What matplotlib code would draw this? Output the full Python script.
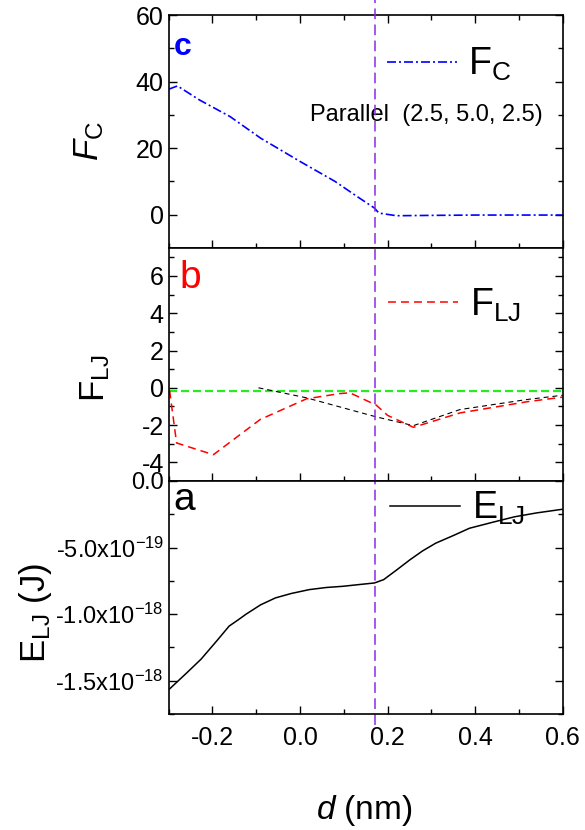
import numpy as np
import matplotlib
matplotlib.use("Agg")
import matplotlib.pyplot as plt
from matplotlib.ticker import MultipleLocator, FixedLocator, FuncFormatter, FormatStrFormatter

plt.rcParams["font.family"] = ["Liberation Sans", "DejaVu Sans"]
plt.rcParams["mathtext.fontset"] = "custom"
plt.rcParams["mathtext.rm"] = "Liberation Sans"
plt.rcParams["mathtext.it"] = "Liberation Sans:italic"
plt.rcParams["mathtext.bf"] = "Liberation Sans:bold"
plt.rcParams["axes.unicode_minus"] = False

# ---- data ----
# panel c : Coulomb force
d_c = [-0.30, -0.28, -0.23, -0.16, -0.09, 0.0, 0.08, 0.13, 0.17, 0.18, 0.22, 0.30, 0.40, 0.50, 0.60]
f_c = [37.7, 38.7, 34.5, 29.5, 23.0, 16.0, 10.0, 5.5, 2.0, 0.5, -0.3, -0.2, -0.1, -0.1, -0.1]

# panel b : LJ force (red) and a second LJ curve (black), plus reference level (green)
d_lj = [-0.298, -0.282, -0.198, -0.091, 0.015, 0.091, 0.114, 0.174, 0.20, 0.259, 0.365, 0.518, 0.60]
f_lj = [-0.15, -2.96, -3.59, -1.70, -0.59, -0.31, -0.27, -0.93, -1.48, -2.12, -1.35, -0.75, -0.50]
d_lj2 = [-0.095, 0.015, 0.174, 0.259, 0.365, 0.518, 0.60]
f_lj2 = [0.0, -0.54, -1.56, -2.03, -1.17, -0.63, -0.40]
d_ref = [-0.30, 0.60]
f_ref = [-0.16, -0.16]

# panel a : LJ energy (in 1e-19 J)
d_e = [-0.298, -0.26, -0.226, -0.19, -0.162, -0.14, -0.124, -0.09, -0.056, -0.02, 0.021,
       0.06, 0.098, 0.135, 0.17, 0.191, 0.22, 0.251, 0.28, 0.31, 0.35, 0.387, 0.44, 0.49,
       0.54, 0.598]
e_lj = [-15.62, -14.45, -13.38, -12.0, -10.9, -10.4, -10.02, -9.3, -8.78, -8.45, -8.16,
        -8.0, -7.91, -7.78, -7.66, -7.41, -6.7, -5.92, -5.25, -4.67, -4.1, -3.55, -3.1, -2.69,
        -2.4, -2.13]
e_lj = [v * 1e-19 for v in e_lj]

d_mark = 0.172

fig, (ax_c, ax_b, ax_a) = plt.subplots(3, 1, sharex=True, figsize=(5.85, 8.30), dpi=100)
fig.subplots_adjust(left=0.2884, right=0.9619, top=0.9819, bottom=0.1398, hspace=0)

# ---- curves ----
ax_c.plot(d_c, f_c, color="#0000FF", lw=1.2, dashes=(5.4, 1.8, 1.2, 1.8), label=r"F$_{\rm C}$")
ax_b.plot(d_ref, f_ref, color="#22EE22", lw=1.6, dashes=(3.6, 1.8))
ax_b.plot(d_lj2, f_lj2, color="black", lw=0.8, dashes=(4.5, 3.5))
ax_b.plot(d_lj, f_lj, color="#FF0000", lw=1.1, dashes=(5.2, 3.3), label=r"F$_{\rm LJ}$")
ax_a.plot(d_e, e_lj, color="black", lw=1.1, label=r"E$_{\rm LJ}$")

# vertical marker through all three panels
ax_a.axvline(d_mark, ymin=-0.047, ymax=3.064, clip_on=False, color="#8A2BE2", lw=1.1, dashes=(7, 3.5))

# ---- axes ----
ax_c.set_ylim(-10, 60)
ax_c.yaxis.set_major_locator(FixedLocator([0, 20, 40, 60]))
ax_c.yaxis.set_minor_locator(MultipleLocator(10))

ax_b.set_ylim(-5, 7.5)
ax_b.yaxis.set_major_locator(FixedLocator([-4, -2, 0, 2, 4, 6]))
ax_b.yaxis.set_minor_locator(MultipleLocator(1))

ax_a.set_ylim(-1.75e-18, 0)
ax_a.yaxis.set_major_locator(FixedLocator([0, -5e-19, -1e-18, -1.5e-18]))
ax_a.yaxis.set_minor_locator(MultipleLocator(2.5e-19))


def sci_fmt(v, pos):
    if abs(v) < 1e-30:
        return "0.0"
    e = int(np.floor(np.log10(abs(v))))
    m = v / 10 ** e
    return "%.1fx10$^{%d}$" % (m, e)


ax_a.yaxis.set_major_formatter(FuncFormatter(sci_fmt))

ax_a.set_xlim(-0.3, 0.6)
ax_a.xaxis.set_major_locator(FixedLocator([-0.2, 0.0, 0.2, 0.4, 0.6]))
ax_a.xaxis.set_minor_locator(MultipleLocator(0.1))
ax_a.xaxis.set_major_formatter(FormatStrFormatter("%.1f"))

for ax in (ax_c, ax_b, ax_a):
    for s in ax.spines.values():
        s.set_linewidth(1.2)
    ax.tick_params(which="both", direction="in", left=True, right=True, bottom=True,
                   top=(ax is ax_c), width=1.0)
    ax.tick_params(which="major", length=6)
    ax.tick_params(which="minor", length=3.5)
    ax.tick_params(axis="y", labelsize=18, pad=3.5)
    ax.tick_params(axis="x", labelsize=18, pad=9)
ax_a.tick_params(axis="y", labelsize=17)

# ---- labels ----
ax_c.set_ylabel(r"$F_{\rm C}$", fontsize=25)
ax_c.yaxis.set_label_coords(-0.16, 0.46)
ax_b.set_ylabel(r"F$_{\rm LJ}$", fontsize=25)
ax_b.yaxis.set_label_coords(-0.143, 0.439)
ax_a.set_ylabel(r"E$_{\rm LJ}$ (J)", fontsize=25)
ax_a.yaxis.set_label_coords(-0.29, 0.433)
ax_a.set_xlabel(r"$d$ (nm)", fontsize=24)
ax_a.xaxis.set_label_coords(0.496, -0.339)

ax_c.text(0.012, 0.829, "c", transform=ax_c.transAxes, color="#0000FF", fontsize=23,
          fontweight="bold", va="baseline", ha="left")
ax_b.text(0.027, 0.830, "b", transform=ax_b.transAxes, color="#FF0000", fontsize=28,
          va="baseline", ha="left")
ax_a.text(0.012, 0.876, "a", transform=ax_a.transAxes, color="black", fontsize=28,
          va="baseline", ha="left")
ax_c.text(0.95, 0.546, "Parallel  (2.5, 5.0, 2.5)", transform=ax_c.transAxes, fontsize=17,
          va="baseline", ha="right")

# ---- legends ----
leg_kw = dict(frameon=False, fontsize=27, handlelength=1.87, handletextpad=0.3,
              borderpad=0, borderaxespad=0, loc="center left")
ax_c.legend(bbox_to_anchor=(0.554, 0.787), **leg_kw)
ax_b.legend(bbox_to_anchor=(0.557, 0.755), **leg_kw)
ax_a.legend(bbox_to_anchor=(0.562, 0.882), **leg_kw)

plt.savefig("out.png", dpi=100)
